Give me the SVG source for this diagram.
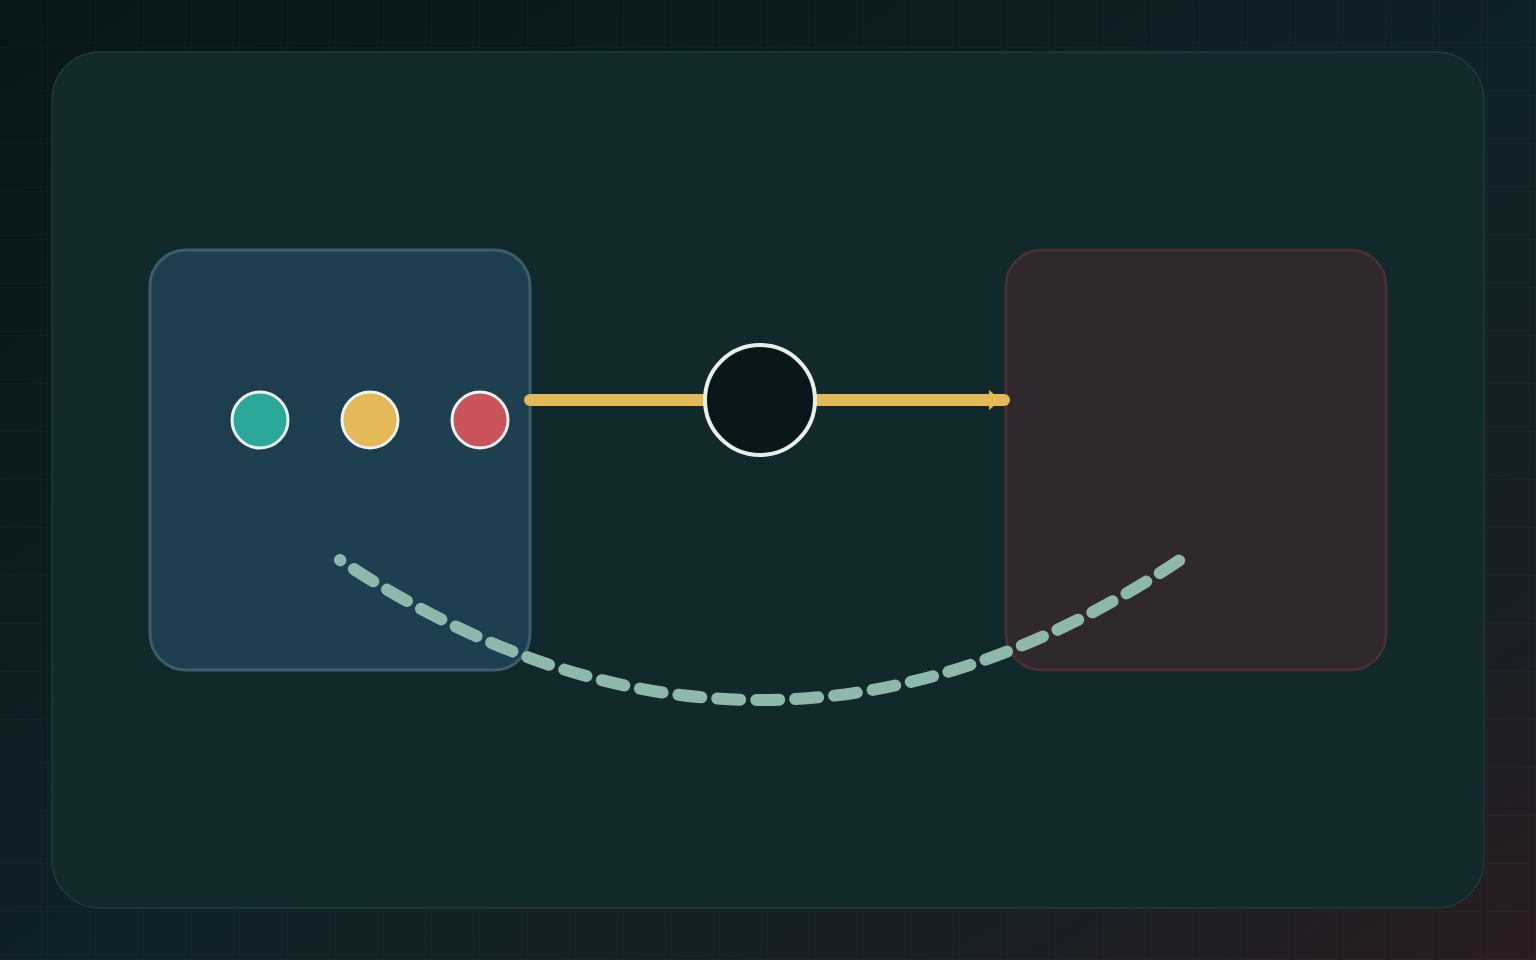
<svg xmlns="http://www.w3.org/2000/svg" width="1536" height="960" viewBox="0 0 1536 960">
  <defs>
    <linearGradient id="bg" x1="0" y1="0" x2="1" y2="1">
      <stop offset="0" stop-color="#07161a"/>
      <stop offset="0.55" stop-color="#0f2227"/>
      <stop offset="0.8" stop-color="#171f25"/>
      <stop offset="1" stop-color="#2a1c20"/>
    </linearGradient>
    <pattern id="grid" width="48" height="48" patternUnits="userSpaceOnUse">
      <path d="M48 0 V48 M0 48 H48" fill="none" stroke="#ffffff" stroke-opacity="0.03" stroke-width="1"/>
    </pattern>
    <marker id="arrow" markerUnits="userSpaceOnUse" markerWidth="14" markerHeight="22" viewBox="0 0 14 22" refX="15" refY="11" orient="auto">
      <path d="M0 1 L12 11 L0 21 Z" fill="#e3b857"/>
    </marker>
    <style>
      .box { stroke-width: 3; }
      .dot { stroke: #eef2ee; stroke-width: 3; }
      .flow { fill: none; stroke: #e3b857; stroke-width: 12; stroke-linecap: round; }
      .loop { fill: none; stroke: #8fb8ad; stroke-width: 12; stroke-linecap: round; stroke-dasharray: 23 16; }
    </style>
  </defs>
  <rect width="1536" height="960" fill="url(#bg)"/>
  <rect width="1536" height="960" fill="url(#grid)"/>
  <rect id="panel" x="52" y="52" width="1432" height="856" rx="48" fill="#12292c" stroke="#1f393b" stroke-width="1.5"/>

  <g id="source">
    <rect class="box" x="150" y="250" width="380" height="420" rx="36" fill="#1d3f50" stroke="#3c5e6b"/>
    <circle class="dot" cx="260" cy="420" r="28" fill="#2ca89a"/>
    <circle class="dot" cx="370" cy="420" r="28" fill="#e3b857"/>
    <circle class="dot" cx="480" cy="420" r="28" fill="#c9525b"/>
  </g>

  <g id="target">
    <rect class="box" x="1006" y="250" width="380" height="420" rx="36" fill="#2f292e" stroke="#4a2e33"/>
  </g>

  <g id="connectors">
    <path class="flow" d="M530 400 H1004" marker-end="url(#arrow)"/>
    <path class="loop" d="M340 560 Q760 840 1180 560" stroke-dashoffset="22.5"/>
  </g>

  <g id="hub">
    <circle cx="760" cy="400" r="55" fill="#0a171a" stroke="#e8efea" stroke-width="4"/>
  </g>
</svg>
